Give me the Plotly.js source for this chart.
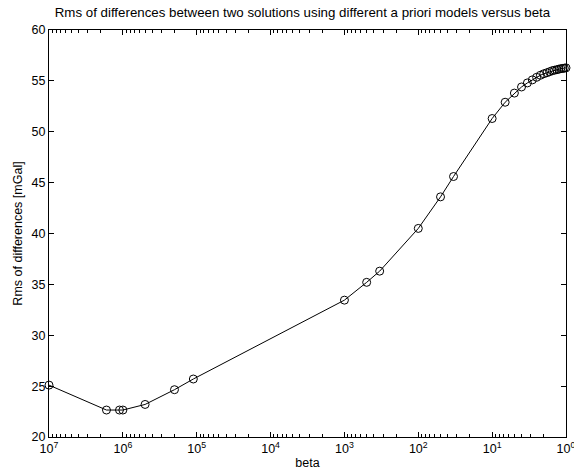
<!DOCTYPE html>
<html><head><meta charset="utf-8">
<script src="https://cdn.plot.ly/plotly-3.0.1.min.js"></script>
<style>html,body{margin:0;padding:0;background:#fff}#c{width:574px;height:475px}</style>
</head><body><div id="c"></div>
<script>
const beta = [1e7, 1.667e6, 1.111e6, 1e6, 5e5, 2e5, 1.111e5, 1000, 500, 333.3, 100, 50, 33.33,
  10, 6.667, 5, 4, 3.333, 2.857, 2.5, 2.222, 2, 1.818, 1.667, 1.538, 1.429, 1.333, 1.25, 1.176, 1.111, 1.053, 1];
const rms = [25.1, 22.65, 22.65, 22.65, 23.2, 24.65, 25.7, 33.45, 35.2, 36.3, 40.5, 43.6, 45.6,
  51.3, 52.9, 53.8, 54.4, 54.8, 55.1, 55.35, 55.55, 55.7, 55.8, 55.9, 56.0, 56.05, 56.1, 56.15, 56.2, 56.22, 56.25, 56.28];
const xTickVals = [1e7, 1e6, 1e5, 1e4, 1e3, 1e2, 1e1, 1e0];
const xTickText = ['10<sup>7</sup>','10<sup>6</sup>','10<sup>5</sup>','10<sup>4</sup>','10<sup>3</sup>','10<sup>2</sup>','10<sup>1</sup>','10<sup>0</sup>'];
const minorVals = [];
for (let e = 0; e < 7; e++) for (let d = 2; d <= 9; d++) minorVals.push(d * Math.pow(10, e));

const fam = 'Liberation Sans, Arial, sans-serif';
const font = {family: fam, size: 12.5, color: '#000'};
Plotly.newPlot('c', [{
  x: beta, y: rms, type: 'scatter', mode: 'lines+markers',
  line: {color: '#000', width: 1},
  marker: {symbol: 'circle-open', size: 8, color: '#000', line: {width: 1, color: '#000'}},
  hoverinfo: 'skip', cliponaxis: false
}], {
  width: 574, height: 475,
  margin: {l: 49, r: 8, t: 30, b: 38},
  paper_bgcolor: '#fff', plot_bgcolor: '#fff',
  font: font,
  showlegend: false,
  title: {text: 'Rms of differences between two solutions using different a priori models versus beta',
    font: {family: fam, size: 13.3, color: '#000'}, x: 0.527, xanchor: 'center', y: 0.974, yanchor: 'middle'},
  xaxis: {
    type: 'log', range: [7, 0], autorange: false,
    tickmode: 'array', tickvals: xTickVals, ticktext: xTickText,
    ticks: 'inside', ticklen: 5, tickwidth: 1, tickcolor: '#000',
    minor: {tickmode: 'array', tickvals: minorVals, ticks: 'inside', ticklen: 3, tickwidth: 1, tickcolor: '#000'},
    showline: true, linecolor: '#000', linewidth: 1, mirror: 'ticks',
    showgrid: false, zeroline: false, ticklabeloverflow: 'allow',
    tickfont: font, automargin: false,
    title: {text: 'beta', font: font, standoff: 3}
  },
  yaxis: {
    range: [20, 60], autorange: false, dtick: 5, tick0: 20,
    ticks: 'inside', ticklen: 5, tickwidth: 1, tickcolor: '#000',
    showline: true, linecolor: '#000', linewidth: 1, mirror: 'ticks',
    showgrid: false, zeroline: false, automargin: false,
    tickfont: font,
    title: {text: 'Rms of differences [mGal]', font: font, standoff: 6}
  }
}, {staticPlot: true});
</script></body></html>
